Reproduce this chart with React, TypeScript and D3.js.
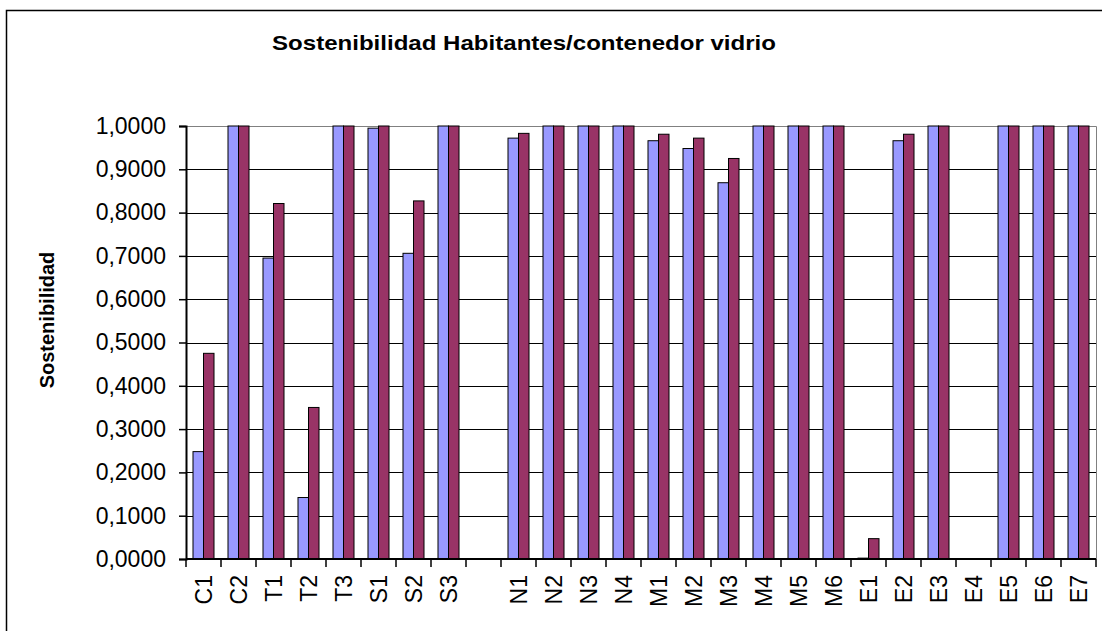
import React, { useEffect, useRef } from 'react';
import * as d3 from 'd3';

// categories ('' = empty slot between S3 and N1)
const categories = ['C1', 'C2', 'T1', 'T2', 'T3', 'S1', 'S2', 'S3', '', 'N1', 'N2', 'N3', 'N4', 'M1', 'M2', 'M3', 'M4', 'M5', 'M6', 'E1', 'E2', 'E3', 'E4', 'E5', 'E6', 'E7'];
const serieA = [0.248, 1, 0.695, 0.142, 1, 0.995, 0.706, 1, 0, 0.972, 1, 1, 1, 0.966, 0.948, 0.869, 1, 1, 1, 0.002, 0.966, 1, 0, 1, 1, 1];
const serieB = [0.475, 1, 0.821, 0.35, 1, 1, 0.827, 1, 0, 0.983, 1, 1, 1, 0.981, 0.972, 0.925, 1, 1, 1, 0.047, 0.981, 1, 0, 1, 1, 1];
const yTicks = [0, 0.1, 0.2, 0.3, 0.4, 0.5, 0.6, 0.7, 0.8, 0.9, 1];

const title = 'Sostenibilidad Habitantes/contenedor vidrio';
const yTitle = 'Sostenibilidad';

const App = () => {
    const svgRef = useRef(null);

    useEffect(() => {
        const width = 1102;
        const height = 631;
        const plot = { left: 186, right: 1096, top: 126, bottom: 559 };
        const font = '"Liberation Sans", Arial, sans-serif';

        const svg = d3.select(svgRef.current);
        svg.selectAll('*').remove();
        svg.attr('width', width).attr('height', height);

        // outer chart frame
        svg.append('rect')
            .attr('x', 6.5).attr('y', 10.5)
            .attr('width', width + 20).attr('height', height + 20)
            .attr('fill', 'white').attr('stroke', 'black').attr('stroke-width', 1.5);

        const idx = categories.map((_, i) => String(i));
        const x = d3.scaleBand().domain(idx).range([plot.left, plot.right]).padding(0);
        const inner = d3.scaleBand().domain(['a', 'b'])
            .range([x.bandwidth() * 0.2, x.bandwidth() * 0.8]).padding(0);
        const y = d3.scaleLinear().domain([0, 1]).range([plot.bottom, plot.top]);

        // gridlines
        svg.append('g')
            .selectAll('line')
            .data(yTicks.filter(t => t > 0 && t < 1))
            .join('line')
            .attr('x1', plot.left).attr('x2', plot.right)
            .attr('y1', d => Math.round(y(d)) + 0.5).attr('y2', d => Math.round(y(d)) + 0.5)
            .attr('stroke', 'black').attr('stroke-width', 1);

        // plot area border (top/right)
        svg.append('path')
            .attr('d', `M${plot.left},${plot.top + 0.5}H${plot.right + 0.5}V${plot.bottom}`)
            .attr('fill', 'none').attr('stroke', '#808080').attr('stroke-width', 1);

        // bars
        const series = [
            { key: 'a', values: serieA, color: '#9999FF' },
            { key: 'b', values: serieB, color: '#993366' }
        ];
        series.forEach(s => {
            svg.append('g')
                .selectAll('rect')
                .data(s.values.map((v, i) => ({ v, i })).filter(d => d.v > 0))
                .join('rect')
                .attr('x', d => x(String(d.i)) + inner(s.key))
                .attr('y', d => y(d.v))
                .attr('width', inner.bandwidth())
                .attr('height', d => y(0) - y(d.v))
                .attr('fill', s.color)
                .attr('stroke', 'black')
                .attr('stroke-width', 1);
        });

        // y axis
        const yAxis = svg.append('g')
            .attr('transform', `translate(${plot.left},0)`)
            .call(d3.axisLeft(y).tickValues(yTicks).tickSize(7).tickPadding(13)
                .tickFormat(d => d3.format('.4f')(d).replace('.', ',')));
        yAxis.select('.domain').attr('stroke', 'black').attr('stroke-width', 2);
        yAxis.selectAll('.tick line').attr('stroke', 'black').attr('stroke-width', 1.5);
        yAxis.selectAll('.tick text')
            .attr('fill', 'black')
            .style('font-family', font).style('font-size', '23px');

        // x axis
        const bounds = d3.range(categories.length + 1).map(i => plot.left + i * x.bandwidth());
        const xg = svg.append('g');
        xg.append('line')
            .attr('x1', plot.left).attr('x2', plot.right)
            .attr('y1', plot.bottom).attr('y2', plot.bottom)
            .attr('stroke', 'black').attr('stroke-width', 2);
        xg.selectAll('line.tick')
            .data(bounds)
            .join('line')
            .attr('class', 'tick')
            .attr('x1', d => d).attr('x2', d => d)
            .attr('y1', plot.bottom).attr('y2', plot.bottom + 8)
            .attr('stroke', 'black').attr('stroke-width', 1.5);
        xg.selectAll('text')
            .data(categories.map((c, i) => ({ c, i })).filter(d => d.c !== ''))
            .join('text')
            .attr('transform', d => `translate(${x(String(d.i)) + x.bandwidth() / 2 + 8},575) rotate(-90)`)
            .attr('text-anchor', 'end')
            .style('font-family', font).style('font-size', '23px')
            .text(d => d.c);

        // titles
        svg.append('text')
            .attr('x', 272).attr('y', 50)
            .attr('textLength', 504).attr('lengthAdjust', 'spacingAndGlyphs')
            .style('font-family', font).style('font-size', '21px').style('font-weight', 'bold')
            .text(title);

        svg.append('text')
            .attr('transform', 'translate(54,320) rotate(-90)')
            .attr('text-anchor', 'middle')
            .style('font-family', font).style('font-size', '20px').style('font-weight', 'bold')
            .text(yTitle);
    }, []);

    return (
        <svg ref={svgRef} style={{ display: 'block', position: 'absolute', left: 0, top: 0 }}></svg>
    );
};

export default App;
